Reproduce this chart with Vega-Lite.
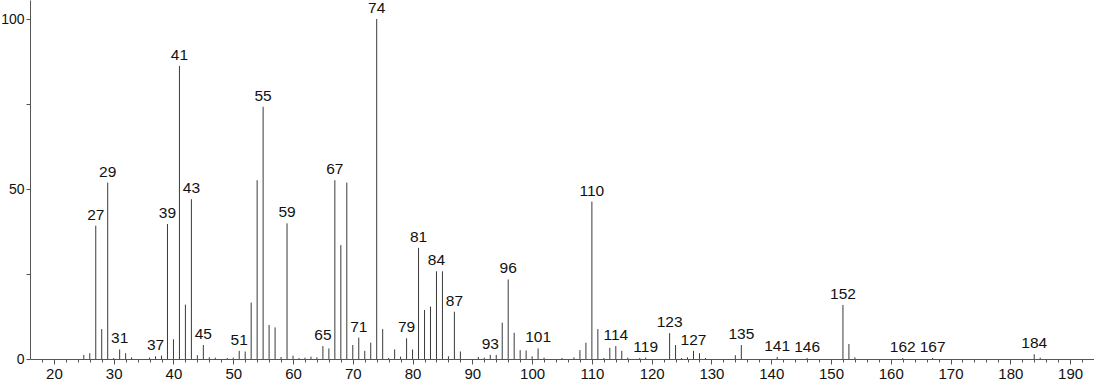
{
  "$schema": "https://vega.github.io/schema/vega-lite/v6.json",
  "width": 1064,
  "height": 359,
  "autosize": {"type": "none"},
  "padding": {"left": 30, "top": 0, "right": 0, "bottom": 25},
  "background": "white",
  "config": {
    "view": {"stroke": null},
    "font": "Liberation Sans",
    "axis": {"grid": false, "domainColor": "#555", "tickColor": "#555", "labelColor": "#111", "labelFont": "Liberation Sans", "labelFontSize": 15}
  },
  "data": {
    "values": [
      {"mz": 25, "intensity": 1.2, "label": false},
      {"mz": 26, "intensity": 1.7, "label": false},
      {"mz": 27, "intensity": 39.2, "label": true},
      {"mz": 28, "intensity": 8.8, "label": false},
      {"mz": 29, "intensity": 51.9, "label": true},
      {"mz": 30, "intensity": 0.3, "label": false},
      {"mz": 31, "intensity": 2.8, "label": true},
      {"mz": 32, "intensity": 1.7, "label": false},
      {"mz": 33, "intensity": 0.5, "label": false},
      {"mz": 36, "intensity": 0.4, "label": false},
      {"mz": 37, "intensity": 0.8, "label": true},
      {"mz": 38, "intensity": 1.0, "label": false},
      {"mz": 39, "intensity": 39.7, "label": true},
      {"mz": 40, "intensity": 5.8, "label": false},
      {"mz": 41, "intensity": 86.2, "label": true},
      {"mz": 42, "intensity": 16.0, "label": false},
      {"mz": 43, "intensity": 47.0, "label": true},
      {"mz": 44, "intensity": 1.1, "label": false},
      {"mz": 45, "intensity": 4.1, "label": true},
      {"mz": 46, "intensity": 0.5, "label": false},
      {"mz": 47, "intensity": 0.4, "label": false},
      {"mz": 49, "intensity": 0.3, "label": false},
      {"mz": 50, "intensity": 0.4, "label": false},
      {"mz": 51, "intensity": 2.4, "label": true},
      {"mz": 52, "intensity": 2.2, "label": false},
      {"mz": 53, "intensity": 16.6, "label": false},
      {"mz": 54, "intensity": 52.6, "label": false},
      {"mz": 55, "intensity": 74.2, "label": true},
      {"mz": 56, "intensity": 10.0, "label": false},
      {"mz": 57, "intensity": 9.3, "label": false},
      {"mz": 58, "intensity": 0.6, "label": false},
      {"mz": 59, "intensity": 39.9, "label": true},
      {"mz": 60, "intensity": 1.0, "label": false},
      {"mz": 61, "intensity": 0.3, "label": false},
      {"mz": 62, "intensity": 0.4, "label": false},
      {"mz": 63, "intensity": 0.7, "label": false},
      {"mz": 64, "intensity": 0.5, "label": false},
      {"mz": 65, "intensity": 3.8, "label": true},
      {"mz": 66, "intensity": 3.1, "label": false},
      {"mz": 67, "intensity": 52.6, "label": true},
      {"mz": 68, "intensity": 33.5, "label": false},
      {"mz": 69, "intensity": 51.9, "label": false},
      {"mz": 70, "intensity": 4.1, "label": false},
      {"mz": 71, "intensity": 6.3, "label": true},
      {"mz": 72, "intensity": 2.4, "label": false},
      {"mz": 73, "intensity": 4.8, "label": false},
      {"mz": 74, "intensity": 100, "label": true},
      {"mz": 75, "intensity": 8.8, "label": false},
      {"mz": 76, "intensity": 0.3, "label": false},
      {"mz": 77, "intensity": 2.8, "label": false},
      {"mz": 78, "intensity": 0.7, "label": false},
      {"mz": 79, "intensity": 6.1, "label": true},
      {"mz": 80, "intensity": 2.8, "label": false},
      {"mz": 81, "intensity": 32.7, "label": true},
      {"mz": 82, "intensity": 14.4, "label": false},
      {"mz": 83, "intensity": 15.4, "label": false},
      {"mz": 84, "intensity": 25.8, "label": true},
      {"mz": 85, "intensity": 25.8, "label": false},
      {"mz": 86, "intensity": 0.8, "label": false},
      {"mz": 87, "intensity": 13.9, "label": true},
      {"mz": 88, "intensity": 2.2, "label": false},
      {"mz": 91, "intensity": 0.6, "label": false},
      {"mz": 92, "intensity": 0.4, "label": false},
      {"mz": 93, "intensity": 1.2, "label": true},
      {"mz": 94, "intensity": 1.2, "label": false},
      {"mz": 95, "intensity": 10.7, "label": false},
      {"mz": 96, "intensity": 23.4, "label": true},
      {"mz": 97, "intensity": 7.7, "label": false},
      {"mz": 98, "intensity": 2.6, "label": false},
      {"mz": 99, "intensity": 2.5, "label": false},
      {"mz": 100, "intensity": 0.8, "label": false},
      {"mz": 101, "intensity": 3.1, "label": true},
      {"mz": 102, "intensity": 0.4, "label": false},
      {"mz": 105, "intensity": 0.3, "label": false},
      {"mz": 107, "intensity": 0.5, "label": false},
      {"mz": 108, "intensity": 2.6, "label": false},
      {"mz": 109, "intensity": 4.8, "label": false},
      {"mz": 110, "intensity": 46.3, "label": true},
      {"mz": 111, "intensity": 8.8, "label": false},
      {"mz": 112, "intensity": 0.3, "label": false},
      {"mz": 113, "intensity": 3.3, "label": false},
      {"mz": 114, "intensity": 3.8, "label": true},
      {"mz": 115, "intensity": 2.4, "label": false},
      {"mz": 116, "intensity": 0.4, "label": false},
      {"mz": 118, "intensity": 0.3, "label": false},
      {"mz": 119, "intensity": 0.4, "label": true},
      {"mz": 123, "intensity": 7.6, "label": true},
      {"mz": 124, "intensity": 4.1, "label": false},
      {"mz": 125, "intensity": 0.3, "label": false},
      {"mz": 126, "intensity": 0.5, "label": false},
      {"mz": 127, "intensity": 2.4, "label": true},
      {"mz": 128, "intensity": 1.7, "label": false},
      {"mz": 129, "intensity": 0.3, "label": false},
      {"mz": 134, "intensity": 1.1, "label": false},
      {"mz": 135, "intensity": 4.1, "label": true},
      {"mz": 141, "intensity": 0.6, "label": true},
      {"mz": 146, "intensity": 0.3, "label": true},
      {"mz": 152, "intensity": 15.9, "label": true},
      {"mz": 153, "intensity": 4.4, "label": false},
      {"mz": 154, "intensity": 0.5, "label": false},
      {"mz": 162, "intensity": 0.3, "label": true},
      {"mz": 167, "intensity": 0.3, "label": true},
      {"mz": 184, "intensity": 1.4, "label": true},
      {"mz": 185, "intensity": 0.4, "label": false}
    ]
  },
  "encoding": {
    "x": {
      "field": "mz",
      "type": "quantitative",
      "scale": {"domain": [16, 194], "nice": false, "zero": false},
      "axis": {
        "title": null,
        "values": [18,20,22,24,26,28,30,32,34,36,38,40,42,44,46,48,50,52,54,56,58,60,62,64,66,68,70,72,74,76,78,80,82,84,86,88,90,92,94,96,98,100,102,104,106,108,110,112,114,116,118,120,122,124,126,128,130,132,134,136,138,140,142,144,146,148,150,152,154,156,158,160,162,164,166,168,170,172,174,176,178,180,182,184,186,188,190,192],
        "labelExpr": "datum.value % 10 === 0 ? datum.label : ''",
        "tickSize": {"condition": {"test": "datum.value % 10 === 0", "value": 5}, "value": 3},
        "labelPadding": 2,
        "labelFlush": false,
        "labelOverlap": false
      }
    },
    "y": {
      "field": "intensity",
      "type": "quantitative",
      "scale": {"domain": [0, 105.6], "nice": false},
      "axis": {
        "title": null,
        "values": [0, 25, 50, 75, 100],
        "labelExpr": "datum.value % 50 === 0 ? datum.label : ''",
        "tickSize": 4,
        "labelPadding": 2,
        "labelFontSize": 14
      }
    }
  },
  "layer": [
    {
      "mark": {"type": "rule", "color": "#3a3a3a", "strokeWidth": 1},
      "encoding": {"y2": {"datum": 0}}
    },
    {
      "transform": [{"filter": "datum.label"}],
      "mark": {"type": "text", "baseline": "bottom", "align": "center", "dy": -3, "fontSize": 15.5, "font": "Liberation Sans", "color": "#111"},
      "encoding": {"text": {"field": "mz", "type": "quantitative"}}
    }
  ]
}
